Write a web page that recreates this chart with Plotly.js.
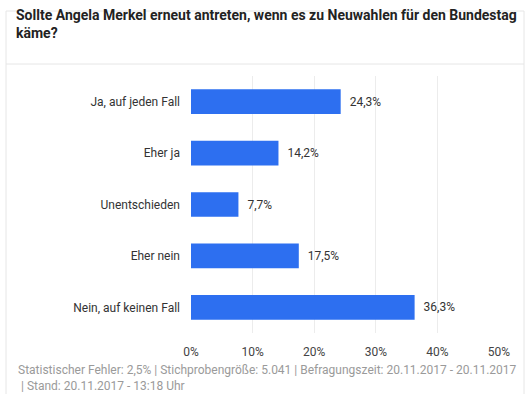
<!DOCTYPE html>
<html><head><meta charset="utf-8">
<script src="https://cdn.plot.ly/plotly-3.0.1.min.js"></script>
<style>body{margin:0;padding:0;background:#fff}#chart{width:530px;height:394px}</style>
</head><body><div id="chart"></div>
<script>
const categories = ["Ja, auf jeden Fall", "Eher ja", "Unentschieden", "Eher nein", "Nein, auf keinen Fall"];
const values = [24.3, 14.2, 7.7, 17.5, 36.3];
const tickVals = [0, 10, 20, 30, 40, 50];
const tickText = ["0%", "10%", "20%", "30%", "40%", "50%"];
const titleText = "Sollte Angela Merkel erneut antreten, wenn es zu Neuwahlen für den Bundestag<br>käme?";
const footText = "Statistischer Fehler: 2,5% | Stichprobengröße: 5.041 | Befragungszeit: 20.11.2017 - 20.11.2017<br> | Stand: 20.11.2017 - 13:18 Uhr";

const labels = values.map(v => '\u00a0\u00a0' + v.toFixed(1).replace('.', ',') + '%');

const trace = {
  type: 'bar', orientation: 'h',
  x: values, y: categories,
  marker: {color: '#2d6ff0'},
  width: 0.48,
  text: labels, textposition: 'outside', cliponaxis: false,
  textfont: {family: 'Roboto, sans-serif', size: 12, color: '#333'},
  hoverinfo: 'none'
};

const layout = {
  width: 530, height: 394,
  margin: {l: 191, r: 31, t: 76, b: 61, pad: 0},
  paper_bgcolor: '#fff', plot_bgcolor: '#fff',
  showlegend: false,
  font: {family: 'Roboto, sans-serif', size: 12, color: '#333'},
  title: {text: titleText, x: 16/530, xanchor: 'left', y: 1 - 20/394, yanchor: 'top',
    font: {family: 'Roboto, sans-serif', size: 14, color: '#222', weight: 'bold'}},
  xaxis: {range: [0, 50], tickvals: tickVals, ticktext: tickText, showgrid: true,
    gridcolor: '#ececec', gridwidth: 1, zeroline: false, showline: false, ticks: '',
    ticklabelstandoff: 10,
    tickfont: {size: 12, color: '#444'}, fixedrange: true},
  yaxis: {autorange: 'reversed', showgrid: false, zeroline: false, showline: false,
    ticks: '', ticklabelstandoff: 10, tickfont: {size: 12, color: '#333'}},
  shapes: [
    {type: 'rect', xref: 'paper', yref: 'paper', x0: -185/308, x1: 1 + 25/308, y0: -80/257, y1: 1 + 65/257,
      line: {color: '#e6e6e6', width: 1}, fillcolor: 'rgba(0,0,0,0)', layer: 'below'},
    {type: 'line', xref: 'paper', yref: 'paper', x0: -185/308, x1: 1 + 25/308, y0: 1 + 12/257, y1: 1 + 12/257,
      line: {color: '#e6e6e6', width: 1}}
  ],
  annotations: [
    {text: footText, xref: 'paper', yref: 'paper', x: -175/308, y: -28/257, xanchor: 'left', yanchor: 'top',
      align: 'left', showarrow: false, font: {size: 12, color: '#9a9a9a'}}
  ]
};

Plotly.newPlot('chart', [trace], layout, {displayModeBar: false, staticPlot: true});
</script></body></html>
